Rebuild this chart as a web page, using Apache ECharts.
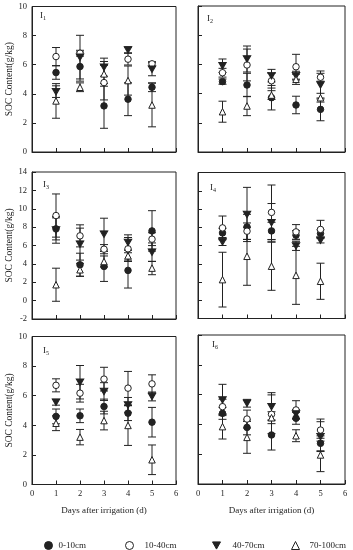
<!DOCTYPE html>
<html><head><meta charset="utf-8">
<script src="https://cdn.jsdelivr.net/npm/echarts@6/dist/echarts.min.js"></script>
<style>html,body{margin:0;padding:0;background:#fff}#c{width:353px;height:550px}</style>
</head><body><div id="c"></div>
<script>
// ---- data ----
const days = [1, 2, 3, 4, 5];
const xTicks = [0, 1, 2, 3, 4, 5, 6];
const depthNames = ['0-10cm', '10-40cm', '40-70cm', '70-100cm'];
const panelNames = ['1', '2', '3', '4', '5', '6'];
const yMins = [0, 0, -2, -2, 0, 0];
const yMaxs = [10, 10, 14, 14, 10, 10];

const I1_d0_10 = [5.46, 5.87, 3.17, 3.63, 4.45];
const I1_d0_10_sd = [0.46, 1.0, 1.54, 1.13, 0.3];
const I1_d10_40 = [6.56, 6.79, 4.77, 6.38, 6.06];
const I1_d10_40_sd = [0.62, 0.2, 1.19, 0.4, 0.15];
const I1_d40_70 = [4.15, 6.52, 5.83, 7.02, 5.69];
const I1_d40_70_sd = [0.4, 1.5, 0.62, 0.2, 0.45];
const I1_d70_100 = [3.51, 4.45, 5.37, 4.91, 3.23];
const I1_d70_100_sd = [1.19, 0.3, 0.85, 1.0, 1.5];

const I2_d0_10 = [4.82, 4.59, 3.72, 3.22, 2.92];
const I2_d0_10_sd = [0.18, 0.8, 0.84, 0.6, 0.78];
const I2_d10_40 = [5.43, 5.96, 4.88, 5.84, 5.12];
const I2_d10_40_sd = [0.3, 1.09, 0.5, 0.85, 0.27];
const I2_d40_70 = [5.91, 6.37, 5.23, 5.23, 4.59];
const I2_d40_70_sd = [0.46, 0.89, 0.43, 0.3, 0.96];
const I2_d70_100 = [2.76, 3.15, 3.9, 4.98, 3.72];
const I2_d70_100_sd = [0.72, 0.66, 0.3, 0.35, 0.3];

const I3_d0_10 = [7.81, 3.9, 3.72, 3.29, 7.59];
const I3_d0_10_sd = [1.2, 1.26, 1.63, 1.92, 2.2];
const I3_d10_40 = [9.26, 7.05, 5.6, 5.64, 6.69];
const I3_d10_40_sd = [2.35, 1.2, 0.5, 1.23, 0.7];
const I3_d40_70 = [7.7, 6.15, 7.24, 6.33, 5.28];
const I3_d40_70_sd = [1.45, 1.74, 1.73, 0.83, 1.0];
const I3_d70_100 = [1.73, 3.36, 4.26, 4.88, 3.54];
const I3_d70_100_sd = [1.8, 0.7, 0.6, 0.62, 0.72];

const I4_d0_10 = [7.38, 8.04, 7.6, 7.13, 7.32];
const I4_d0_10_sd = [0.5, 1.38, 0.94, 0.5, 0.4];
const I4_d10_40 = [7.93, 7.57, 9.63, 7.49, 7.76];
const I4_d10_40_sd = [1.3, 0.9, 3.0, 0.8, 1.0];
const I4_d40_70 = [6.4, 9.4, 8.5, 5.96, 6.58];
const I4_d40_70_sd = [0.4, 2.97, 2.1, 0.5, 0.3];
const I4_d70_100 = [2.26, 4.82, 3.73, 2.73, 2.08];
const I4_d70_100_sd = [3.0, 3.18, 2.64, 3.18, 1.98];

const I5_d0_10 = [4.6, 4.64, 5.27, 4.82, 4.21];
const I5_d0_10_sd = [0.5, 0.46, 0.5, 0.5, 1.0];
const I5_d10_40 = [6.7, 6.17, 7.12, 6.51, 6.8];
const I5_d10_40_sd = [0.44, 0.6, 0.8, 1.13, 0.61];
const I5_d40_70 = [5.56, 6.91, 6.28, 5.38, 5.95];
const I5_d40_70_sd = [0.2, 1.13, 0.6, 0.5, 0.3];
const I5_d70_100 = [4.14, 3.2, 4.32, 3.99, 1.67];
const I5_d70_100_sd = [0.5, 0.52, 0.63, 1.35, 1.0];

const I6_d0_10 = [4.74, 3.8, 3.29, 4.41, 2.73];
const I6_d0_10_sd = [0.4, 0.5, 1.01, 0.4, 0.5];
const I6_d10_40 = [5.19, 4.36, 4.68, 4.97, 3.62];
const I6_d10_40_sd = [0.5, 0.6, 1.3, 0.62, 0.74];
const I6_d40_70 = [5.64, 5.42, 5.19, 4.7, 3.18];
const I6_d40_70_sd = [1.05, 0.26, 0.94, 0.3, 1.0];
const I6_d70_100 = [3.85, 3.13, 4.45, 3.24, 1.95];
const I6_d70_100_sd = [0.83, 1.07, 0.4, 0.4, 1.12];

const panelMeans = [
  [I1_d0_10, I1_d10_40, I1_d40_70, I1_d70_100],
  [I2_d0_10, I2_d10_40, I2_d40_70, I2_d70_100],
  [I3_d0_10, I3_d10_40, I3_d40_70, I3_d70_100],
  [I4_d0_10, I4_d10_40, I4_d40_70, I4_d70_100],
  [I5_d0_10, I5_d10_40, I5_d40_70, I5_d70_100],
  [I6_d0_10, I6_d10_40, I6_d40_70, I6_d70_100]
];
const panelSds = [
  [I1_d0_10_sd, I1_d10_40_sd, I1_d40_70_sd, I1_d70_100_sd],
  [I2_d0_10_sd, I2_d10_40_sd, I2_d40_70_sd, I2_d70_100_sd],
  [I3_d0_10_sd, I3_d10_40_sd, I3_d40_70_sd, I3_d70_100_sd],
  [I4_d0_10_sd, I4_d10_40_sd, I4_d40_70_sd, I4_d70_100_sd],
  [I5_d0_10_sd, I5_d10_40_sd, I5_d40_70_sd, I5_d70_100_sd],
  [I6_d0_10_sd, I6_d10_40_sd, I6_d40_70_sd, I6_d70_100_sd]
];

// ---- style / layout ----
const FONT = '"Liberation Serif", "DejaVu Serif", serif';
const INK = '#222';
const grids = [
  {left: 32, top: 6.5, width: 144, height: 145.5},
  {left: 198, top: 6, width: 147, height: 146},
  {left: 32, top: 172, width: 144, height: 147},
  {left: 198, top: 172.5, width: 147, height: 146},
  {left: 32, top: 336.5, width: 144, height: 148},
  {left: 198, top: 335, width: 147, height: 149}
];
const labelPos = [[40, 11], [207, 14], [43, 180], [210, 183], [43, 346], [212, 340]];
const symbolDefs = [
  {symbol: 'circle', fill: INK},
  {symbol: 'circle', fill: '#fff'},
  {symbol: 'path://M0,0 L10,0 L5,9 Z', fill: INK},
  {symbol: 'triangle', fill: '#fff'}
];

const chart = echarts.init(document.getElementById('c'), null, {renderer: 'canvas'});

const xAxes = [], yAxes = [], series = [], graphics = [];
grids.forEach((g, i) => {
  const leftCol = i % 2 === 0;
  const bottomRow = i >= 4;
  xAxes.push({
    gridIndex: i, type: 'value', min: xTicks[0], max: xTicks[xTicks.length - 1], interval: 1,
    axisLine: {onZero: false, lineStyle: {color: INK, width: 1}},
    axisTick: {inside: true, length: 4, lineStyle: {color: INK}},
    axisLabel: {show: bottomRow, fontFamily: FONT, fontSize: 8.5, color: INK, margin: 5},
    splitLine: {show: false},
    name: bottomRow ? 'Days after irrigation (d)' : '',
    nameLocation: 'middle', nameGap: 22,
    nameTextStyle: {fontFamily: FONT, fontSize: 9, color: INK}
  });
  yAxes.push({
    gridIndex: i, type: 'value', min: yMins[i], max: yMaxs[i], interval: 2,
    axisLine: {onZero: false, lineStyle: {color: INK, width: 1}},
    axisTick: {inside: true, length: 4, lineStyle: {color: INK}},
    axisLabel: {show: leftCol, fontFamily: FONT, fontSize: 8.5, color: INK, margin: 5},
    splitLine: {show: false},
    name: leftCol ? 'SOC Content(g/kg)' : '',
    nameLocation: 'middle', nameGap: 14,
    nameTextStyle: {fontFamily: FONT, fontSize: 9.5, color: INK}
  });
  panelMeans[i].forEach((means, s) => {
    const sds = panelSds[i][s];
    series.push({
      type: 'custom', name: depthNames[s], xAxisIndex: i, yAxisIndex: i, z: 2,
      silent: true, legendHoverLink: false,
      data: days.map((d, k) => [d, means[k], sds[k]]),
      renderItem: (params, api) => {
        const x = api.value(0), y = api.value(1), e = api.value(2);
        const top = api.coord([x, y + e]);
        const bot = api.coord([x, y - e]);
        const hw = 4;
        const st = {stroke: INK, lineWidth: 1};
        return {type: 'group', children: [
          {type: 'line', shape: {x1: top[0], y1: top[1], x2: bot[0], y2: bot[1]}, style: st},
          {type: 'line', shape: {x1: top[0] - hw, y1: top[1], x2: top[0] + hw, y2: top[1]}, style: st},
          {type: 'line', shape: {x1: bot[0] - hw, y1: bot[1], x2: bot[0] + hw, y2: bot[1]}, style: st}
        ]};
      }
    });
  });
  panelMeans[i].forEach((means, s) => {
    const sd = symbolDefs[s];
    series.push({
      type: 'scatter', name: depthNames[s], xAxisIndex: i, yAxisIndex: i, z: 5,
      symbol: sd.symbol, symbolSize: s === 2 ? [7.5, 6.5] : 6.5,
      itemStyle: {color: sd.fill, borderColor: INK, borderWidth: 1, opacity: 1},
      data: days.map((d, k) => [d, means[k]])
    });
  });
  graphics.push({
    type: 'text', left: labelPos[i][0], top: labelPos[i][1],
    style: {
      text: '{a|I}{b|' + panelNames[i] + '}',
      rich: {
        a: {fontFamily: FONT, fontSize: 9, fill: INK},
        b: {fontFamily: FONT, fontSize: 6, fill: INK, padding: [5, 0, 0, 0]}
      }
    }
  });
});

const legendLefts = [39, 120, 207, 286];
const legendPads = [1, 6, 7, 5];
const legends = depthNames.map((n, k) => ({
  data: [{name: n, icon: symbolDefs[k].symbol, itemStyle: {color: symbolDefs[k].fill, borderColor: INK, borderWidth: 1}}],
  left: legendLefts[k], top: 536, itemWidth: 8, itemHeight: 8,
  selectedMode: false,
  textStyle: {fontFamily: FONT, fontSize: 9, color: INK, padding: [0, 0, 0, legendPads[k]]}
}));

chart.setOption({
  animation: false,
  backgroundColor: '#fff',
  grid: grids.map(g => Object.assign({show: true, borderColor: INK, borderWidth: 1, backgroundColor: 'transparent'}, g)),
  xAxis: xAxes,
  yAxis: yAxes,
  legend: legends,
  graphic: graphics,
  series: series
});
</script>
</body></html>
